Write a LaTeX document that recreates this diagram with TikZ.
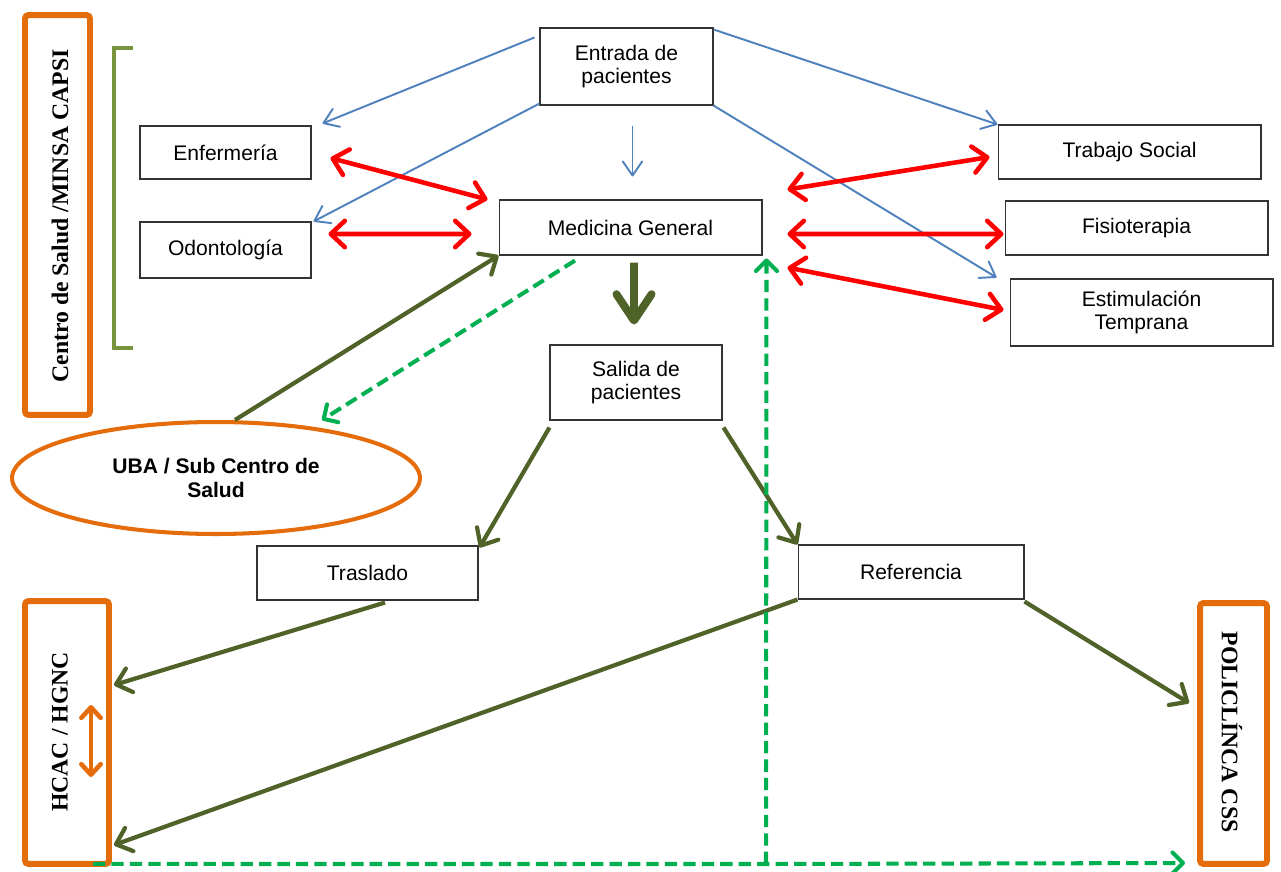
\documentclass[tikz,border=0pt]{standalone}
\usepackage{fontspec}
\setmainfont{Liberation Sans}
\newfontfamily\titlefont{Liberation Serif}
\usepackage{tikz}
\usetikzlibrary{arrows.meta,shapes.geometric}
\definecolor{naranja}{HTML}{E46C0A}
\definecolor{oliva}{HTML}{4F6228}
\definecolor{verdellave}{HTML}{77933C}
\definecolor{azul}{HTML}{4F81BD}
\definecolor{verde}{HTML}{00B050}
\definecolor{rojo}{HTML}{FF0000}

\begin{document}
\begin{tikzpicture}[x=0.02cm,y=-0.02cm,
  box/.style={draw=black!80,line width=0.6pt,align=center,inner sep=0pt,font=\fontsize{12}{13.5}\selectfont},
  obox/.style={draw=naranja,line width=3.4pt,rounded corners=2pt},
  rotulo/.style={font=\titlefont\bfseries\fontsize{13.5}{15}\selectfont},
  azularr/.style={draw=azul,line width=1.1pt,-{Straight Barb[round,length=8pt,width=11pt]}},
  rojoarr/.style={draw=rojo,line width=2.6pt,>={Straight Barb[round,length=8pt,width=15pt]},<->},
  olivarr/.style={draw=oliva,line width=2.4pt,-{Straight Barb[round,length=8pt,width=14pt]}},
  olivagruesa/.style={draw=oliva,line width=4.5pt,-{Straight Barb[round,length=15pt,width=20pt]}},
  verdedash/.style={draw=verde,line width=2.3pt,dash pattern=on 7pt off 3.5pt,-{Straight Barb[round,length=6pt,width=12pt]}},
  naranjarr/.style={draw=naranja,line width=2.6pt,>={Straight Barb[round,length=6pt,width=11pt]},<->}]
\useasboundingbox (0,0) rectangle (1281,872);

\node[box,minimum width=3.46cm,minimum height=1.54cm] (ent) at (626.5,66.5) {Entrada de\\pacientes};
\node[box,minimum width=3.42cm,minimum height=1.06cm] (enf) at (225.5,152.5) {Enfermería};
\node[box,minimum width=3.42cm,minimum height=1.12cm] (odo) at (225.5,250) {Odontología};
\node[box,minimum width=5.26cm,minimum height=1.1cm] (med) at (630.5,227.5) {Medicina General};
\node[box,minimum width=5.26cm,minimum height=1.08cm] (tsoc) at (1129.5,152) {Trabajo Social};
\node[box,minimum width=5.26cm,minimum height=1.08cm] (fis) at (1136.5,228) {Fisioterapia};
\node[box,minimum width=5.26cm,minimum height=1.34cm] (est) at (1141.5,312.5) {Estimulación\\Temprana};
\node[box,minimum width=3.44cm,minimum height=1.5cm] (sal) at (636,382.5) {Salida de\\pacientes};
\node[box,minimum width=4.42cm,minimum height=1.08cm] (tras) at (367.5,573) {Traslado};
\node[box,minimum width=4.52cm,minimum height=1.08cm] (ref) at (911,572) {Referencia};

\node[obox,minimum width=1.3cm,minimum height=8cm] (csalud) at (57.5,215) {};
\node[rotulo,rotate=90] (csalud-t) at (60,216) {Centro de Salud /MINSA CAPSI};
\node[obox,minimum width=1.68cm,minimum height=5.26cm] (hcac) at (67,732.5) {};
\node[rotulo,rotate=90] (hcac-t) at (60,732) {HCAC / HGNC};
\node[obox,minimum width=1.34cm,minimum height=5.22cm] (pol) at (1233.5,733.5) {};
\node[rotulo,rotate=-90] (pol-t) at (1232,732) {POLICLÍNCA CSS};
\node[draw=naranja,line width=2.3pt,ellipse,inner sep=0pt,minimum width=8.16cm,minimum height=2.24cm,align=center,font=\bfseries\fontsize{12}{13.5}\selectfont] (uba) at (216,478) {UBA / Sub Centro de\\Salud};

\draw[verdellave,line width=2.2pt] (133,48) -| (114,348) -- (133,348);

\draw[azularr] ([shift={(-5,10)}]ent.north west) -- ([shift={(11,-2)}]enf.north east);
\draw[azularr] ([shift={(0,-2)}]ent.south west) -- ([shift={(2,0)}]odo.north east);
\draw[azularr] ([shift={(6,20)}]ent.south) -- ([shift={(2,-23)}]med.north);
\draw[azularr] ([shift={(0,2)}]ent.north east) -- (tsoc.north west);
\draw[azularr] (ent.south east) -- ([shift={(-13,-1)}]est.north west);

\draw[rojoarr] ([shift={(19,5.5)}]enf.east) -- ([shift={(-11,0)}]med.north west);
\draw[rojoarr] ([shift={(17,-16)}]odo.east) -- ([shift={(-27,6.5)}]med.west);
\draw[rojoarr] ([shift={(25,-10)}]med.north east) -- ([shift={(-8,5)}]tsoc.west);
\draw[rojoarr] ([shift={(25,6.5)}]med.east) -- ([shift={(-1,6)}]fis.west);
\draw[rojoarr] ([shift={(25,12)}]med.south east) -- ([shift={(-6,-2.5)}]est.west);

\draw[olivagruesa] ([shift={(3.5,7)}]med.south) -- ([shift={(-2,-20)}]sal.north);
\draw[olivarr] ([shift={(19,0)}]uba.north) -- (med.south west);
\draw[olivarr] ([shift={(0,7)}]sal.south west) -- ([shift={(1,2)}]tras.north east);
\draw[olivarr] ([shift={(1,7)}]sal.south east) -- (ref.north west);
\draw[olivarr] ([shift={(17.5,2)}]tras.south) -- ([shift={(2,-47.5)}]hcac.east);
\draw[olivarr] (ref.south west) -- ([shift={(2,112.5)}]hcac.east);
\draw[olivarr] ([shift={(0,2)}]ref.south east) -- ([shift={(-8,-30.5)}]pol.west);

\draw[verdedash] ([shift={(-55.5,5)}]med.south) -- ([shift={(106,0)}]uba.north);
\coordinate (cruce) at (766,864);
\draw[verdedash] ([shift={(26,-3)}]hcac.south) -- (cruce) -- ([shift={(-12,129.5)}]pol.west);
\draw[verdedash] (cruce) -- ([shift={(4,3)}]med.south east);

\draw[naranjarr] ([shift={(24,-27.5)}]hcac.center) -- ([shift={(24,44.5)}]hcac.center);
\end{tikzpicture}
\end{document}
